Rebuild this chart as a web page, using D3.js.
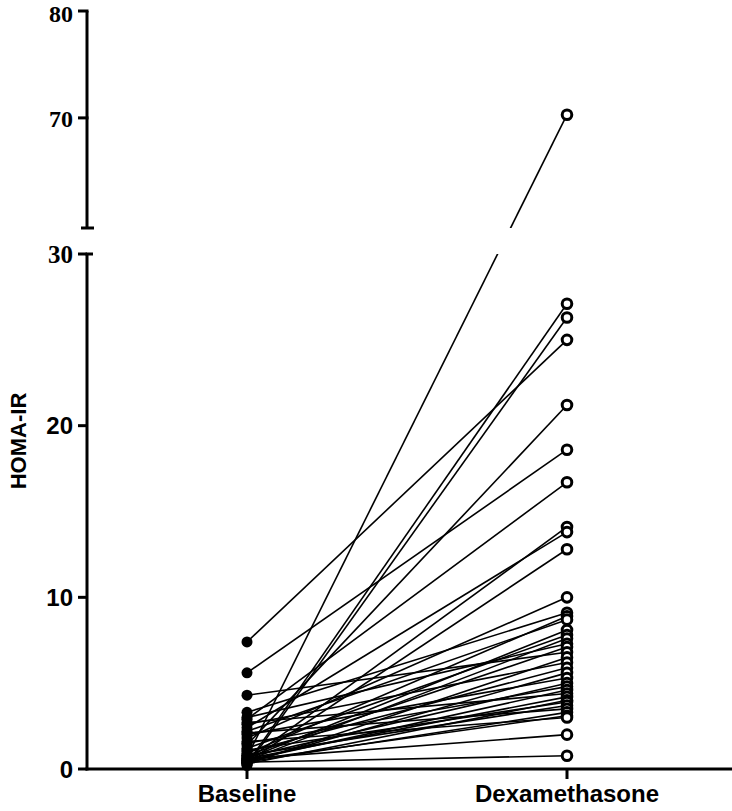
<!DOCTYPE html>
<html>
<head>
<meta charset="utf-8">
<script src="https://cdn.jsdelivr.net/npm/d3@7"></script>
<style>
  body { margin: 0; background: #fff; }
</style>
</head>
<body>
<div id="chart"></div>
<script>
// categories on the x axis
var categories = ["Baseline", "Dexamethasone"];

// paired HOMA-IR values (same subject on each index)
var baseline = [0.7, 0.3, 0.2, 7.4, 1.4, 5.6, 2.9, 0.5, 2.4, 0.4, 1.8, 3.3, 0.9, 2.2, 0.6, 1.2, 0.5, 3.0, 0.8, 4.3,
    0.3, 2.6, 1.0, 0.4, 2.0, 0.7, 1.5, 0.5, 2.7, 0.6, 0.3, 1.1, 0.8, 2.1, 0.4, 0.5, 1.6, 0.6, 0.4];
var dexamethasone = [70.3, 27.1, 26.3, 25.0, 21.2, 18.6, 16.7, 14.1, 13.8, 12.8, 10.0, 9.1, 8.9, 8.7, 8.1, 7.8, 7.6, 7.3, 7.1, 6.8,
    6.5, 6.2, 5.9, 5.6, 5.3, 5.0, 4.8, 4.6, 4.4, 4.2, 4.0, 3.9, 3.7, 3.5, 3.3, 3.1, 3.0, 2.0, 0.77];

// tick labels for the two axis segments
var lowTicks = [0, 10, 20, 30];
var highTicks = [70, 80];

var svgWidth = 732;
var svgHeight = 811;
var axisX = 87;

var svg = d3.select("#chart")
    .append("svg")
    .attr("width", svgWidth)
    .attr("height", svgHeight);

var xScale = d3.scalePoint()
    .domain(categories)
    .range([247, 567]);

// broken y axis: lower 0-30, upper ~60-80
var yLow = d3.scaleLinear().domain([0, 30]).range([769, 254]);
var yHigh = d3.scaleLinear().domain([59.7, 80]).range([228, 11]);
function yPos(v) { return v <= 30 ? yLow(v) : yHigh(v); }

// clip that hides the gap between segments
var defs = svg.append("defs");
var clip = defs.append("clipPath").attr("id", "gapclip");
clip.append("rect").attr("x", 0).attr("y", 0).attr("width", svgWidth).attr("height", 228);
clip.append("rect").attr("x", 0).attr("y", 254).attr("width", svgWidth).attr("height", svgHeight - 254);

// paired lines
var pairs = baseline.map(function (b, i) { return { b: b, d: dexamethasone[i] }; });

svg.append("g")
    .attr("clip-path", "url(#gapclip)")
    .selectAll("line")
    .data(pairs)
    .enter()
    .append("line")
    .attr("x1", xScale(categories[0]))
    .attr("y1", d => yPos(d.b))
    .attr("x2", xScale(categories[1]))
    .attr("y2", d => yPos(d.d))
    .attr("stroke", "black")
    .attr("stroke-width", 1.6);

var serif = "Liberation Serif, Times New Roman, serif";
var sans = "Liberation Sans, Arial, sans-serif";

// lower axis segment
var lowAxis = svg.append("g");
lowAxis.append("line")
    .attr("x1", axisX).attr("x2", axisX)
    .attr("y1", yLow(30)).attr("y2", yLow(0) + 1.5)
    .attr("stroke", "black").attr("stroke-width", 3);
lowAxis.append("line")
    .attr("x1", axisX - 1.5).attr("x2", axisX + 6)
    .attr("y1", yLow(30)).attr("y2", yLow(30))
    .attr("stroke", "black").attr("stroke-width", 3);
lowAxis.selectAll(".tick")
    .data(lowTicks)
    .enter()
    .append("line")
    .attr("x1", axisX - 9).attr("x2", axisX)
    .attr("y1", d => yLow(d)).attr("y2", d => yLow(d))
    .attr("stroke", "black").attr("stroke-width", 3);
lowAxis.selectAll("text")
    .data(lowTicks)
    .enter()
    .append("text")
    .attr("x", axisX - 14)
    .attr("y", d => yLow(d))
    .attr("dy", "0.36em")
    .attr("text-anchor", "end")
    .attr("font-family", d => d === 30 ? serif : sans)
    .attr("font-weight", "bold")
    .attr("font-size", d => d === 30 ? "25px" : "24px")
    .text(d => d);

// upper axis segment
var highAxis = svg.append("g");
highAxis.append("line")
    .attr("x1", axisX).attr("x2", axisX)
    .attr("y1", yHigh(80)).attr("y2", 228)
    .attr("stroke", "black").attr("stroke-width", 3);
highAxis.append("line")
    .attr("x1", axisX - 6).attr("x2", axisX + 7)
    .attr("y1", 228).attr("y2", 228)
    .attr("stroke", "black").attr("stroke-width", 3);
highAxis.selectAll(".tick")
    .data(highTicks)
    .enter()
    .append("line")
    .attr("x1", axisX - 9).attr("x2", axisX + 1.5)
    .attr("y1", d => yHigh(d)).attr("y2", d => yHigh(d))
    .attr("stroke", "black").attr("stroke-width", 3);
// top label is nudged down a little so it stays inside the page
highAxis.selectAll("text")
    .data(highTicks)
    .enter()
    .append("text")
    .attr("x", axisX - 14)
    .attr("y", d => Math.max(yHigh(d) + 9, 22))
    .attr("text-anchor", "end")
    .attr("font-family", serif)
    .attr("font-weight", "bold")
    .attr("font-size", "24px")
    .text(d => d);

// x axis
var xAxisG = svg.append("g");
xAxisG.append("line")
    .attr("x1", axisX - 1.5).attr("x2", svgWidth)
    .attr("y1", yLow(0)).attr("y2", yLow(0))
    .attr("stroke", "black").attr("stroke-width", 3);
xAxisG.selectAll(".tick")
    .data(categories)
    .enter()
    .append("line")
    .attr("x1", d => xScale(d)).attr("x2", d => xScale(d))
    .attr("y1", yLow(0)).attr("y2", yLow(0) + 10)
    .attr("stroke", "black").attr("stroke-width", 3);
xAxisG.selectAll("text")
    .data(categories)
    .enter()
    .append("text")
    .attr("x", d => xScale(d))
    .attr("y", 802)
    .attr("text-anchor", "middle")
    .attr("font-family", sans)
    .attr("font-weight", "bold")
    .attr("font-size", "24px")
    .text(d => d);

// y axis title
svg.append("text")
    .attr("transform", "translate(26, 441) rotate(-90)")
    .attr("text-anchor", "middle")
    .attr("font-family", sans)
    .attr("font-weight", "bold")
    .attr("font-size", "22px")
    .text("HOMA-IR");

// points
svg.append("g")
    .selectAll("circle")
    .data(baseline)
    .enter()
    .append("circle")
    .attr("cx", xScale(categories[0]))
    .attr("cy", d => yLow(d))
    .attr("r", 5.5)
    .attr("fill", "black");

svg.append("g")
    .selectAll("circle")
    .data(dexamethasone)
    .enter()
    .append("circle")
    .attr("cx", xScale(categories[1]))
    .attr("cy", d => yPos(d))
    .attr("r", 4.8)
    .attr("fill", "white")
    .attr("stroke", "black")
    .attr("stroke-width", 3);
</script>
</body>
</html>
